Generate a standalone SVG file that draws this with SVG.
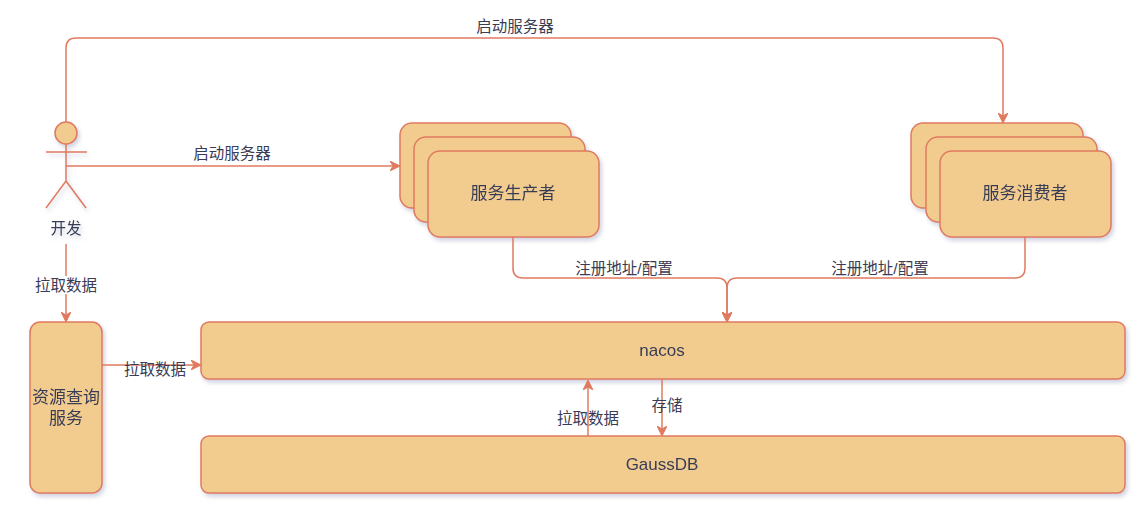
<svg xmlns="http://www.w3.org/2000/svg" width="1143" height="516" viewBox="0 0 1143 516">
<style>
.n{fill:#F2CC8F;stroke:#E07A5F;stroke-width:1.5}
.e{fill:none;stroke:#E07A5F;stroke-width:1.5}
.t{font-family:"Liberation Sans","Noto Sans CJK SC",sans-serif;fill:#393C56;text-anchor:middle;dominant-baseline:central}
.nt{font-size:17px}
.lt{font-size:15.5px}
</style>
<defs>
<filter id="sh" x="-10%" y="-10%" width="130%" height="140%">
<feDropShadow dx="2" dy="3" stdDeviation="2" flood-color="#7a80a8" flood-opacity="0.35"/>
</filter>
<marker id="ar" viewBox="0 0 10 10" refX="9" refY="5" markerWidth="10" markerHeight="10" markerUnits="userSpaceOnUse" orient="auto">
<path d="M0,0 L10,5 L0,10 L3,5 Z" fill="#E07A5F" stroke="#E07A5F" stroke-width="1"/>
</marker>
</defs>
<rect width="1143" height="516" fill="#ffffff"/>

<g id="actor" filter="url(#sh)">
<circle class="n" cx="66" cy="133" r="11"/>
<path class="e" d="M66,144 V181 M46,152 H87 M66,181 L46,208 M66,181 L86,208"/>
<text class="t lt" x="66" y="228">开发</text>
</g>

<g id="producer" filter="url(#sh)">
<rect class="n" x="400" y="123" width="171" height="85" rx="12"/>
<rect class="n" x="414" y="137" width="171" height="85" rx="12"/>
<rect class="n" x="428" y="151" width="171" height="86" rx="12"/>
<text class="t nt" x="513" y="193">服务生产者</text>
</g>

<g id="consumer" filter="url(#sh)">
<rect class="n" x="911" y="123" width="172" height="85" rx="12"/>
<rect class="n" x="926" y="137" width="171" height="85" rx="12"/>
<rect class="n" x="940" y="151" width="171" height="86" rx="12"/>
<text class="t nt" x="1025" y="193">服务消费者</text>
</g>

<g id="resource" filter="url(#sh)">
<rect class="n" x="30" y="322" width="72" height="171" rx="10"/>
<text class="t nt" x="66" y="397">资源查询</text>
<text class="t nt" x="66" y="418">服务</text>
</g>

<g id="nacos" filter="url(#sh)">
<rect class="n" x="201" y="322" width="924" height="57" rx="8"/>
<text class="t nt" x="662" y="350">nacos</text>
</g>

<g id="gaussdb" filter="url(#sh)">
<rect class="n" x="201" y="436" width="924" height="57" rx="8"/>
<text class="t nt" x="662" y="464">GaussDB</text>
</g>

<g id="connectors">
<path class="e" d="M66,122 V48 Q66,38 76,38 H993 Q1003,38 1003,48 V122" marker-end="url(#ar)"/>
<text class="t lt" x="515" y="26">启动服务器</text>

<path class="e" d="M66,166 H399" marker-end="url(#ar)"/>
<text class="t lt" x="232" y="153">启动服务器</text>

<path class="e" d="M513,237 V268 Q513,278 523,278 H717 Q727,278 727,288 V321" marker-end="url(#ar)"/>
<text class="t lt" x="624" y="268">注册地址/配置</text>

<path class="e" d="M1025,237 V268 Q1025,278 1015,278 H737 Q727,278 727,288 V321" marker-end="url(#ar)"/>
<text class="t lt" x="880" y="268">注册地址/配置</text>

<path class="e" d="M66,244 V321" marker-end="url(#ar)"/>
<rect x="34" y="276" width="64" height="18" fill="#ffffff"/>
<text class="t lt" x="66" y="285">拉取数据</text>

<path class="e" d="M102,365 H200" marker-end="url(#ar)"/>
<text class="t lt" x="155" y="369">拉取数据</text>

<path class="e" d="M588,436 V381" marker-end="url(#ar)"/>
<text class="t lt" x="588" y="418">拉取数据</text>

<path class="e" d="M662,379 V435" marker-end="url(#ar)"/>
<text class="t lt" x="667" y="405">存储</text>
</g>
</svg>
